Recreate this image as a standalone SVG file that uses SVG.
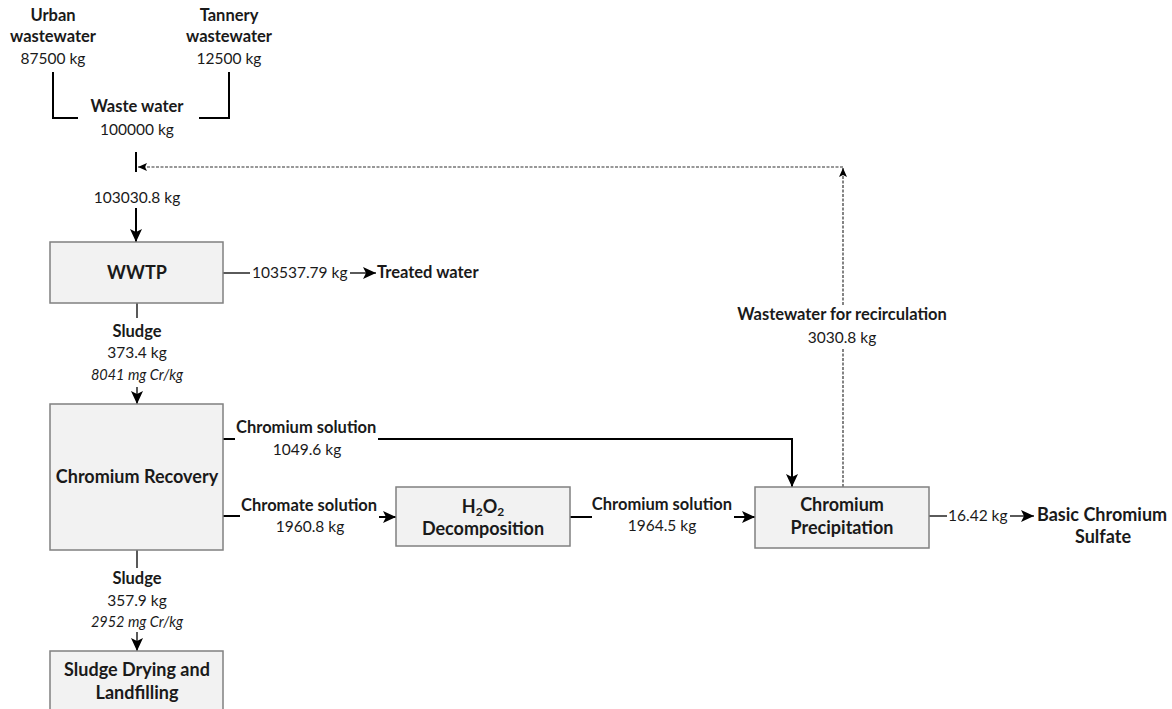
<svg xmlns="http://www.w3.org/2000/svg" width="1172" height="709" viewBox="0 0 1172 709">
<defs>
<style>
text{font-family:Lato,"Liberation Sans",sans-serif;fill:#1a1a1a;}
.b{font-weight:bold;font-size:16.5px;}
.r{font-size:15.5px;}
.i{font-style:italic;font-size:14.5px;}
.n{font-weight:bold;font-size:18px;}
.c{text-anchor:middle;}
.box{fill:#f2f2f2;stroke:#808080;stroke-width:1.5;}
.ln{fill:none;stroke:#000;stroke-width:2;}
.th{fill:none;stroke:#000;stroke-width:1.3;}
.ds{fill:none;stroke:#333;stroke-width:1.2;stroke-dasharray:3 1.5;}
</style>
<marker id="ah" markerUnits="userSpaceOnUse" markerWidth="14" markerHeight="12" refX="13" refY="6" orient="auto">
<path d="M0,0 L13,6 L0,12 L3,6 Z" fill="#000"/>
</marker>
<marker id="ahs" markerUnits="userSpaceOnUse" markerWidth="10" markerHeight="10" refX="9" refY="4" orient="auto">
<path d="M0,0 L9,4 L0,8 L2,4 Z" fill="#000"/>
</marker>
</defs>
<rect width="1172" height="709" fill="#fff"/>

<g id="connectors">
<polyline class="ln" points="53,72 53,118 78,118"/>
<polyline class="ln" points="199,118 229,118 229,72"/>
<line class="ln" x1="136" y1="152" x2="136" y2="172"/>
<line class="ln" x1="136" y1="208" x2="136" y2="242" marker-end="url(#ah)"/>
<path class="ds" d="M843,487 V348"/>
<path class="ds" d="M843,305 V168" marker-end="url(#ahs)"/>
<path class="ds" d="M843,167 H138" marker-end="url(#ahs)"/>
<line class="th" x1="223" y1="273" x2="250" y2="273"/>
<line class="th" x1="350" y1="273" x2="376" y2="273" marker-end="url(#ah)"/>
<line class="th" x1="137" y1="303" x2="137" y2="318"/>
<line class="th" x1="137" y1="387" x2="137" y2="404" marker-end="url(#ah)"/>
<line class="ln" x1="223" y1="439" x2="235" y2="439"/>
<polyline class="ln" points="378,439 792,439 792,487" marker-end="url(#ah)"/>
<line class="ln" x1="223" y1="516" x2="240" y2="516"/>
<line class="ln" x1="379" y1="517" x2="396" y2="517" marker-end="url(#ah)"/>
<line class="ln" x1="570" y1="517" x2="592" y2="517"/>
<line class="ln" x1="734" y1="517" x2="755" y2="517" marker-end="url(#ah)"/>
<line class="th" x1="929" y1="516" x2="947" y2="516"/>
<line class="th" x1="1010" y1="516" x2="1034" y2="516" marker-end="url(#ah)"/>
<line class="th" x1="137" y1="550" x2="137" y2="568"/>
<line class="th" x1="137" y1="632" x2="137" y2="651" marker-end="url(#ah)"/>
</g>

<g id="urban">
<text class="b c" x="53" y="21">Urban</text>
<text class="b c" x="53" y="42">wastewater</text>
<text class="r c" x="53" y="64">87500 kg</text>
</g>
<g id="tannery">
<text class="b c" x="229" y="21">Tannery</text>
<text class="b c" x="229" y="42">wastewater</text>
<text class="r c" x="229" y="64">12500 kg</text>
</g>
<g id="wastewater">
<text class="b c" x="137" y="112">Waste water</text>
<text class="r c" x="137" y="135">100000 kg</text>
</g>
<g id="labels">
<text class="r c" x="137" y="203">103030.8 kg</text>
<text class="r" x="252" y="278">103537.79 kg</text>
<text class="b c" x="137" y="337">Sludge</text>
<text class="r c" x="137" y="358">373.4 kg</text>
<text class="i c" x="137" y="380">8041 mg Cr/kg</text>
<text class="b" x="236" y="433">Chromium solution</text>
<text class="r c" x="307" y="455">1049.6 kg</text>
<text class="b" x="241" y="511">Chromate solution</text>
<text class="r c" x="310" y="532">1960.8 kg</text>
<text class="b c" x="662" y="510">Chromium solution</text>
<text class="r c" x="662" y="531">1964.5 kg</text>
<text class="b c" x="842" y="320">Wastewater for recirculation</text>
<text class="r c" x="842" y="343">3030.8 kg</text>
<text class="r" x="948" y="521">16.42 kg</text>
<text class="b c" x="137" y="584">Sludge</text>
<text class="r c" x="137" y="606">357.9 kg</text>
<text class="i c" x="137" y="627">2952 mg Cr/kg</text>
</g>
<g id="treated">
<text class="b" x="377" y="278">Treated water</text>
</g>
<g id="wwtp">
<rect class="box" x="50" y="242" width="173" height="61"/>
<text class="n c" x="137" y="279">WWTP</text>
</g>
<g id="recovery">
<rect class="box" x="50" y="404" width="173" height="146"/>
<text class="n c" x="137" y="483">Chromium Recovery</text>
</g>
<g id="landfill">
<rect class="box" x="50" y="651" width="173" height="70"/>
<text class="n c" x="137" y="676">Sludge Drying and</text>
<text class="n c" x="137" y="699">Landfilling</text>
</g>
<g id="h2o2">
<rect class="box" x="396" y="487" width="174" height="59"/>
<text class="n c" x="483" y="513">H<tspan font-size="12" dy="3">2</tspan><tspan dy="-3">O</tspan><tspan font-size="12" dy="3">2</tspan></text>
<text class="n c" x="483" y="535">Decomposition</text>
</g>
<g id="precipitation">
<rect class="box" x="755" y="487" width="174" height="61"/>
<text class="n c" x="842" y="511">Chromium</text>
<text class="n c" x="842" y="534">Precipitation</text>
</g>
<g id="bcs">
<text class="n" x="1037" y="521">Basic Chromium</text>
<text class="n c" x="1103" y="543">Sulfate</text>
</g>
</svg>
